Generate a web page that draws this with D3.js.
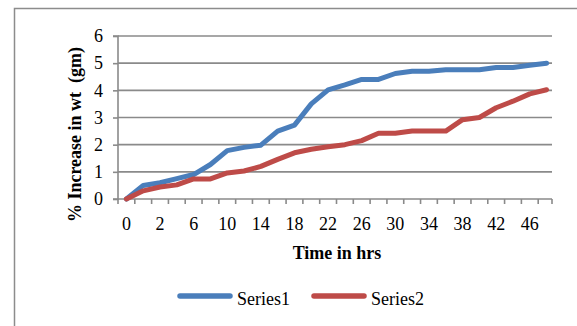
<!DOCTYPE html>
<html><head><meta charset="utf-8">
<script src="https://cdn.jsdelivr.net/npm/d3@7/dist/d3.min.js"></script>
<style>
html,body{margin:0;padding:0;background:#fff;}
svg{display:block;}
text{font-family:"Liberation Serif","Times New Roman",serif;fill:#000;}
</style></head>
<body><svg id="chart" width="577" height="326"></svg>
<script>
const categories = ["0","1","2","4","6","8","10","12","14","16","18","20","22","24","26","28","30","32","34","36","38","40","42","44","46","48"];
const series1 = [0,0.5,0.6,0.75,0.9,1.27,1.78,1.9,1.98,2.5,2.72,3.5,4.02,4.2,4.4,4.4,4.62,4.7,4.7,4.76,4.76,4.76,4.84,4.84,4.92,5.0];
const series2 = [0,0.3,0.44,0.52,0.74,0.74,0.96,1.03,1.2,1.46,1.7,1.83,1.92,2.0,2.15,2.42,2.42,2.5,2.5,2.5,2.92,3.0,3.36,3.6,3.87,4.02];
const seriesNames = ["Series1","Series2"];
const yTicks = [0,1,2,3,4,5,6];
const xTickLabels = ["0","2","6","10","14","18","22","26","30","34","38","42","46"];
const colors = ["#4A7EBB","#BE4B48"];

(function(){
const svg = d3.select("#chart");
// outer chart border
svg.append("path").attr("d","M14.5,326 L14.5,8.5 L577,8.5").attr("fill","none").attr("stroke","#8c8c8c").attr("stroke-width",1.5);

const pLeft=118, pRight=555, pTop=36, pBottom=199;
const x = d3.scaleBand().domain(categories).range([pLeft,pRight]).padding(0);
const y = d3.scaleLinear().domain([0,6]).range([pBottom,pTop]);

// gridlines
svg.append("g").selectAll("line").data(yTicks.filter(d=>d>0)).join("line")
  .attr("x1",pLeft).attr("x2",pRight-3).attr("y1",d=>y(d)).attr("y2",d=>y(d))
  .attr("stroke","#8a8a8a").attr("stroke-width",1.6);

// y axis
const yAxis = d3.axisLeft(y).tickValues(yTicks).tickSize(5).tickPadding(10).tickFormat(d3.format("d"));
const gy = svg.append("g").attr("transform",`translate(${pLeft},0)`).call(yAxis);
gy.select(".domain").attr("stroke","#8a8a8a").attr("stroke-width",1.6).attr("d",`M-5,${y(0)}H0V${pTop}H-5`);
gy.selectAll(".tick line").attr("stroke","#8a8a8a").attr("stroke-width",1.6);
gy.selectAll(".tick text").style("font-size","18px").attr("fill","#000");

// x axis line and between-category ticks
const gx = svg.append("g");
gx.append("line").attr("x1",pLeft).attr("x2",pRight-3).attr("y1",pBottom).attr("y2",pBottom).attr("stroke","#8a8a8a").attr("stroke-width",1.6);
const boundaries = categories.map(c=>x(c)).concat([pRight-3]);
gx.selectAll("line.tk").data(boundaries).join("line").attr("class","tk")
  .attr("x1",d=>d).attr("x2",d=>d).attr("y1",pBottom).attr("y2",pBottom+5)
  .attr("stroke","#8a8a8a").attr("stroke-width",1.6);
gx.selectAll("text").data(xTickLabels).join("text")
  .attr("x",d=>x(d)+x.bandwidth()/2).attr("y",230)
  .attr("text-anchor","middle").style("font-size","18px").text(d=>d);

// lines
const line = d3.line().x((d,i)=>x(categories[i])+x.bandwidth()/2).y(d=>y(d));
[series1,series2].forEach((s,k)=>{
  svg.append("path").datum(s).attr("d",line).attr("fill","none")
    .attr("stroke",colors[k]).attr("stroke-width",5).attr("stroke-linejoin","round").attr("stroke-linecap","round");
});

// axis titles
svg.append("text").attr("x",337).attr("y",259).attr("text-anchor","middle")
  .style("font-size","18px").style("font-weight","bold").text("Time in hrs");
svg.append("text").attr("transform","translate(81,134.5) rotate(-90)").attr("text-anchor","middle")
  .style("font-size","18px").style("font-weight","bold").style("white-space","pre").text("% Increase in wt  (gm)");

// legend
const legX = [178,312];
seriesNames.forEach((n,k)=>{
  svg.append("line").attr("x1",legX[k]+2).attr("x2",legX[k]+52).attr("y1",296).attr("y2",296)
    .attr("stroke",colors[k]).attr("stroke-width",5.5).attr("stroke-linecap","round");
  svg.append("text").attr("x",legX[k]+59).attr("y",305).style("font-size","18px").text(n);
});
})();
</script></body></html>
